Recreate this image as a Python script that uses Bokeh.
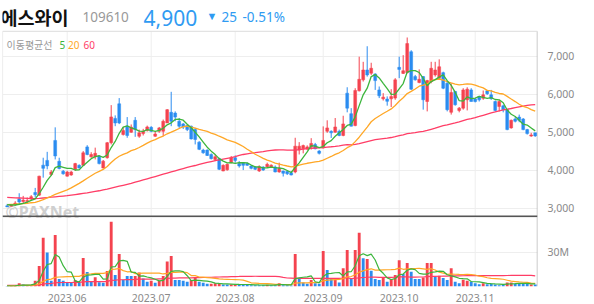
import numpy as np
from bokeh.plotting import figure
from bokeh.models import Range1d, FixedTicker, Label, ColumnDataSource
from bokeh.embed import file_html
from bokeh.resources import INLINE

# ---------------- data ----------------
month_ticks = [15, 36, 57, 79, 98, 117]
month_labels = ["2023.06", "2023.07", "2023.08", "2023.09", "2023.10", "2023.11"]
price_ticks = [3000, 4000, 5000, 6000, 7000]
price_labels = ["3,000", "4,000", "5,000", "6,000", "7,000"]
vol_tick = 30
vol_tick_label = "30M"

open_ = [3060,3050,3080,3240,3170,3170,3240,3410,3340,4130,
 4255,3880,4780,4230,3970,3840,3870,4020,4125,4125,
 4610,4350,4350,4370,4055,4325,4720,5360,5745,4935,
 5155,4995,5310,4890,4960,5040,5125,4890,5020,5020,
 5240,5520,5500,5285,5215,5170,5155,5065,4735,4525,
 4525,4410,4280,4300,3975,4005,4195,4325,4170,4195,
 4170,4105,4080,3975,4080,4090,4080,4080,3950,3975,
 3960,3930,3950,4525,4560,4555,4610,4670,4500,4585,
 5020,5020,4995,5020,4910,6025,5485,5170,6085,6375,
 6635,6550,6530,6110,5875,5870,5875,5895,6705,6545,
 6565,7115,6460,6305,6460,5805,6330,6505,6415,6565,
 6285,5520,6070,5570,5630,5850,6110,5870,5935,5890,
 6085,5980,5805,5675,5690,5590,5110,5345,5395,5345,
 5065,4905,4980]
high = [3110,3100,3180,3390,3320,3280,3340,3530,3850,4325,
 4480,4000,5125,4325,4000,3980,3980,4190,4150,4500,
 4655,4470,4590,4390,4265,4740,5710,5440,5895,5135,
 5395,5200,5395,5065,5085,5170,5155,5020,5135,5330,
 5605,6060,5545,5370,5240,5200,5170,5110,4760,4560,
 4545,4440,4410,4325,4150,4175,4370,4385,4235,4210,
 4195,4130,4105,4125,4100,4195,4150,4120,4195,3985,
 3980,3975,4850,4735,4670,4650,4840,4715,4525,5150,
 5310,5045,5370,5065,5430,6180,5630,6155,6985,6850,
 7260,6825,6550,6200,6025,5940,6130,6420,6985,7025,
 7490,7155,6505,6650,6475,6375,6850,6850,6915,6590,
 6330,6285,6085,5660,6155,6180,6155,5895,5955,6095,
 6110,6110,5830,5850,5720,5605,5330,5395,5460,5370,
 5085,4980,4980]
low = [3030,3040,3060,3090,3110,3130,3200,3280,3320,3800,
 4020,3850,4280,4020,3880,3830,3850,3975,4040,4110,
 4390,4325,4280,4150,4040,4300,4675,5155,5210,4910,
 4850,4980,4875,4850,4910,5015,4995,4875,4980,4890,
 5240,5155,5285,5110,5080,5025,4805,4675,4525,4430,
 4370,4280,4235,4000,3970,3985,4180,4195,4065,4000,
 4110,4020,4000,3950,3980,4065,4060,3940,3930,3830,
 3870,3860,3915,4410,4440,4525,4540,4545,4410,4570,
 4980,4845,4980,4890,4890,5520,5150,5155,6070,6330,
 6460,6505,6110,5895,5830,5695,5660,5850,6420,6530,
 6545,6110,6355,6285,5590,5545,6285,6460,6375,6130,
 5545,5460,5695,5520,5590,5570,5805,5780,5805,5850,
 5980,5850,5545,5545,5520,5050,5090,5255,5260,5050,
 4935,4875,4875]
close = [3040,3085,3130,3160,3210,3200,3300,3350,3840,4045,
 4110,3950,4370,4040,3900,3950,3950,4170,4055,4455,
 4410,4410,4440,4170,4235,4720,5400,5240,5240,5040,
 4910,5130,5065,4980,5020,5135,5020,4950,5110,5285,
 5590,5285,5395,5155,5135,5065,4820,4805,4545,4455,
 4385,4300,4350,4020,4125,4150,4325,4255,4110,4125,
 4125,4045,4020,4090,4000,4150,4130,3950,4040,3915,
 3905,3870,4630,4630,4645,4610,4700,4560,4440,4780,
 5110,4980,5135,4910,5215,5630,5155,6095,6390,6635,
 6505,6680,6355,5955,5920,5810,5935,6375,6650,6615,
 7330,6130,6375,6390,5850,6355,6680,6635,6720,6155,
 5590,6040,5720,5630,6110,6130,5805,5805,5850,5980,
 6010,5880,5570,5805,5590,5065,5310,5285,5310,5065,
 4960,4925,4900]
ma5 = [3090,3080,3080,3100,3125,3157,3200,3244,3380,3547,
 3729,3859,4063,4103,4074,4042,4042,4002,4005,4116,
 4208,4300,4354,4377,4333,4395,4593,4753,4967,5128,
 5166,5112,5077,5025,5021,5066,5044,5021,5047,5100,
 5191,5244,5333,5342,5312,5207,5114,4996,4874,4738,
 4602,4498,4407,4302,4236,4189,4194,4175,4193,4193,
 4188,4132,4085,4081,4056,4061,4078,4064,4054,4037,
 3988,3936,4072,4190,4336,4477,4643,4629,4591,4618,
 4718,4774,4889,4983,5070,5174,5209,5401,5697,5981,
 6156,6461,6513,6426,6283,6144,5995,5999,6138,6277,
 6581,6620,6620,6568,6415,6220,6330,6382,6448,6509,
 6356,6228,6045,5827,5818,5926,5879,5896,5940,5914,
 5890,5905,5858,5849,5771,5582,5468,5411,5312,5207,
 5186,5109,5032]
ma20 = [3090,3095,3100,3110,3115,3125,3140,3150,3180,3220,
 3270,3310,3360,3400,3440,3480,3530,3590,3650,3716,
 3784,3850,3916,3966,4018,4094,4199,4293,4363,4413,
 4453,4512,4547,4594,4650,4709,4762,4801,4854,4896,
 4955,4998,5046,5095,5140,5158,5129,5107,5072,5043,
 5017,4975,4939,4891,4847,4797,4763,4728,4678,4620,
 4547,4485,4416,4363,4306,4260,4226,4183,4158,4131,
 4107,4085,4099,4130,4156,4179,4197,4213,4229,4262,
 4311,4358,4414,4455,4515,4589,4641,4748,4865,5001,
 5131,5272,5358,5424,5488,5548,5610,5701,5811,5903,
 6014,6071,6133,6207,6239,6275,6352,6379,6395,6371,
 6325,6293,6262,6245,6255,6271,6264,6236,6196,6164,
 6098,6086,6045,6016,6003,5939,5870,5803,5732,5678,
 5646,5590,5549]
ma60 = [3280,3275,3270,3265,3260,3255,3250,3250,3255,3265,
 3275,3285,3295,3305,3315,3325,3340,3355,3370,3385,
 3400,3420,3440,3455,3480,3500,3525,3550,3575,3600,
 3625,3650,3680,3710,3740,3770,3800,3830,3860,3890,
 3920,3950,3980,4010,4040,4070,4095,4120,4150,4175,
 4200,4225,4250,4270,4290,4310,4330,4355,4385,4410,
 4428,4444,4459,4475,4488,4504,4518,4528,4531,4529,
 4525,4524,4528,4538,4551,4562,4574,4581,4587,4592,
 4604,4614,4625,4637,4654,4669,4665,4679,4698,4725,
 4751,4777,4799,4815,4830,4841,4857,4880,4906,4928,
 4957,4971,4988,5008,5020,5042,5073,5103,5139,5168,
 5188,5217,5240,5266,5299,5332,5357,5383,5412,5443,
 5474,5505,5531,5559,5586,5601,5621,5643,5664,5683,
 5701,5718,5723]
volume = [0.5,0.4,0.6,2.9,1.8,0.7,0.9,5.0,18.0,42.6,
 29.7,5.0,45.0,6.5,5.0,3.2,3.5,5.6,3.2,25.0,
 12.6,4.1,8.2,3.8,3.2,13.5,56.7,10.0,28.5,5.9,
 9.1,9.1,9.1,12.3,7.1,4.1,5.0,3.2,5.0,9.1,
 21.8,26.8,5.6,5.6,5.0,4.1,5.6,7.9,4.1,3.2,
 2.4,2.4,2.9,2.4,1.8,1.8,1.8,1.8,1.8,1.5,
 1.8,1.2,1.2,1.2,1.0,1.5,1.2,1.2,2.9,1.0,
 1.2,0.9,28.5,6.5,3.5,2.4,5.6,2.9,2.4,31.0,
 14.4,6.5,5.9,3.5,15.9,32.0,7.4,32.0,47.0,24.7,
 24.0,13.8,6.5,5.6,7.9,4.1,6.5,10.0,23.0,10.9,
 20.6,12.9,6.5,6.5,7.9,20.6,20.6,8.5,9.4,7.4,
 5.6,15.9,4.1,2.9,5.9,5.0,4.1,2.9,2.0,2.9,
 2.0,2.4,1.8,1.2,1.8,3.5,3.5,2.4,2.4,2.4,
 2.9,1.8,1.8]
vol_up = [0,1,1,1,0,1,1,1,1,1,
 0,0,1,0,0,0,0,1,0,1,
 0,0,1,0,0,1,1,0,1,0,
 0,0,1,1,0,0,1,0,1,1,
 1,1,0,0,0,0,1,1,0,0,
 0,1,1,1,0,0,1,1,0,0,
 0,0,0,0,0,1,0,0,1,0,
 0,0,1,0,0,0,1,0,0,1,
 0,0,1,0,1,1,0,1,1,0,
 1,0,0,0,1,0,1,1,1,0,
 1,0,0,0,1,1,1,0,1,0,
 0,1,0,0,1,1,0,0,0,1,
 0,0,0,0,0,1,1,0,0,0,
 0,1,0]
vma5 = [0.5,0.45,0.5,1.1,1.24,1.28,1.38,2.26,5.28,13.44,
 19.24,20.06,28.06,25.76,18.24,12.94,12.64,4.76,4.1,8.1,
 9.98,10.1,10.62,10.74,6.38,6.56,17.08,17.44,22.38,22.92,
 22.04,12.52,12.34,9.1,9.34,8.34,7.52,6.34,4.88,5.28,
 8.82,13.18,13.66,13.78,12.96,9.42,5.18,5.64,5.34,4.98,
 4.64,4.0,3.0,2.66,2.38,2.26,2.14,1.92,1.8,1.74,
 1.74,1.62,1.5,1.38,1.28,1.22,1.22,1.22,1.56,1.56,
 1.5,1.44,6.9,7.62,8.12,8.36,9.3,4.18,3.36,8.86,
 11.26,11.44,12.04,12.26,9.24,12.76,12.94,18.16,26.86,28.62,
 27.02,28.3,23.2,14.92,11.56,7.58,6.12,6.82,10.3,10.9,
 14.2,15.48,14.78,11.48,10.88,10.88,12.42,12.82,13.4,13.3,
 10.3,9.36,8.48,7.18,6.88,6.76,4.4,4.16,3.98,3.38,
 2.78,2.44,2.22,2.06,1.84,2.14,2.36,2.48,2.72,2.84,
 2.72,2.38,2.26]
vma20 = [0.6,0.6,0.6,0.8,0.9,1.0,1.0,1.3,2.3,4.5,
 6.0,6.5,8.0,8.3,8.5,8.6,8.7,8.8,8.9,10.26,
 10.86,11.05,11.43,11.47,11.54,12.18,14.97,15.22,15.75,13.91,
 12.88,13.09,11.29,11.58,11.69,11.73,11.81,11.69,11.78,10.98,
 11.44,12.58,12.45,12.54,12.63,12.16,9.6,9.5,8.28,8.14,
 7.81,7.47,7.16,6.67,6.4,6.29,6.13,6.06,5.9,5.52,
 4.52,3.24,3.02,2.8,2.6,2.47,2.25,1.91,1.85,1.74,
 1.68,1.61,2.89,3.09,3.18,3.21,3.4,3.45,3.48,4.96,
 5.59,5.85,6.09,6.2,6.95,8.47,8.78,10.32,12.53,13.71,
 14.85,15.5,14.4,14.35,14.57,14.66,14.7,15.06,16.09,15.08,
 15.39,15.71,15.74,15.89,15.49,14.92,15.58,14.41,12.53,11.66,
 10.74,10.85,10.73,10.59,10.49,10.54,10.42,10.06,9.01,8.61,
 7.68,7.16,6.92,6.66,6.35,5.5,4.64,4.34,3.99,3.74,
 3.6,2.9,2.78]
vma60 = [0.9,0.9,0.9,0.95,1.0,1.0,1.0,1.1,1.4,2.1,
 2.6,2.6,3.3,3.4,3.5,3.5,3.5,3.6,3.6,4.0,
 4.2,4.2,4.3,4.3,4.3,4.5,5.4,5.5,5.9,5.9,
 6.0,6.1,6.2,6.4,6.5,6.5,6.5,6.5,6.6,6.7,
 7.0,7.4,7.4,7.5,7.5,7.5,7.6,7.7,7.8,7.9,
 8.0,8.1,8.2,8.3,8.4,8.5,8.6,8.7,8.8,8.92,
 8.94,8.95,8.96,8.93,8.92,8.93,8.94,8.88,8.62,7.93,
 7.46,7.39,7.11,7.11,7.09,7.07,7.11,7.06,7.05,7.15,
 7.18,7.22,7.18,7.18,7.39,7.7,6.88,7.24,7.55,7.86,
 8.11,8.19,8.15,8.04,8.05,8.05,8.07,8.19,8.49,8.52,
 8.5,8.27,8.28,8.3,8.34,8.62,8.87,8.88,8.97,9.04,
 9.09,9.32,9.34,9.34,9.41,9.47,9.5,9.52,9.53,9.55,
 9.55,9.57,9.58,9.58,9.6,9.63,9.67,9.69,9.68,9.7,
 9.73,9.75,9.3]

# ---------------- geometry (pixels of the 594x304 page) ----------------
W, H = 594, 304
FL, FR, FT, FB = 2, 537, 0, 288        # plot frame (header drawn inside it)
PANEL_TOP = 31                         # top border of the price panel
SEP_Y = 217.3                          # price / volume separator
X0, DX = 6.7, 4.0                      # pixel of first candle, px per session
PX_PER_1000 = 38.25
Y7000 = 56.0
VOL30_PX = 253.5

def xd(px):
    return (px - X0) / DX

def yd(py):
    return 7000 - (py - Y7000) * 1000.0 / PX_PER_1000

RED = "#f4434f"
BLUE = "#2b8cf0"
C_MA5 = "#3cb53c"
C_MA20 = "#ffa726"
C_MA60 = "#ff3d66"
GRID = "#eeeeee"
TXT = "#8a8a8a"
PRICE_BLUE = "#2f9bf2"

n = len(close)
idx = np.arange(n)
o = np.array(open_, float); c = np.array(close, float)
up = c >= o
top = np.maximum(o, c); bot = np.minimum(o, c)
thin = (top - bot) < 30
bot = np.where(thin, top - 30, bot)
col = np.where(up, RED, BLUE)

y0, y1 = yd(FB), yd(FT)
vol_top = vol_tick * (FB - FT) / (FB - VOL30_PX)
def vol_to_price(v):
    return y0 + (y1 - y0) * v / vol_top

p = figure(width=W, height=H, output_backend="svg", toolbar_location=None,
           x_range=Range1d(xd(FL), xd(FR)), y_range=Range1d(y0, y1),
           y_axis_location="right",
           min_border_left=FL, min_border_right=W - FR,
           min_border_top=FT, min_border_bottom=H - FB)
p.title.visible = False
p.extra_y_ranges = {"vol": Range1d(0, vol_top)}
p.background_fill_color = "white"
p.border_fill_color = "white"
p.outline_line_color = None

# horizontal grid via the axis ticker, vertical grid drawn below the header only
t30 = round(vol_to_price(30), 3)
t60 = round(vol_to_price(60), 3)
p.ygrid.ticker = FixedTicker(ticks=price_ticks + [t30, t60])
p.ygrid.grid_line_color = GRID
p.xgrid.visible = False
g = p.segment(x0=month_ticks, x1=month_ticks, y0=[yd(PANEL_TOP)] * len(month_ticks),
              y1=[yd(FB)] * len(month_ticks), line_color=GRID, line_width=1)
g.level = "underlay"

# panel borders
b1 = p.segment(x0=[xd(FL) + 0.02], x1=[xd(FL) + 0.02], y0=[yd(PANEL_TOP)], y1=[yd(FB)],
               line_color="#dcdcdc", line_width=1)
b1.level = "underlay"
p.segment(x0=[xd(FR) - 0.05], x1=[xd(FR) - 0.05], y0=[yd(PANEL_TOP)], y1=[yd(FB)],
          line_color="#a8a8a8", line_width=1)
p.segment(x0=[xd(FL)], x1=[xd(FR)], y0=[yd(PANEL_TOP)], y1=[yd(PANEL_TOP)],
          line_color="#dcdcdc", line_width=1)

# axes
ya = p.yaxis[0]
ya.ticker = FixedTicker(ticks=price_ticks + [t30])
ov = {t: s for t, s in zip(price_ticks, price_labels)}
ov[t30] = vol_tick_label
ya.major_label_overrides = ov
ya.major_tick_line_color = None
ya.minor_tick_line_color = None
ya.axis_line_color = None
ya.major_label_text_color = TXT
ya.major_label_text_font = "Noto Sans"
ya.major_label_text_font_size = "10.5px"
ya.major_label_standoff = 4

xa = p.xaxis[0]
xa.ticker = FixedTicker(ticks=month_ticks)
xa.major_label_overrides = {t: s for t, s in zip(month_ticks, month_labels)}
xa.major_tick_line_color = None
xa.minor_tick_line_color = None
xa.axis_line_color = None
xa.major_label_text_color = TXT
xa.major_label_text_font = "Noto Sans"
xa.major_label_text_font_size = "10.5px"
xa.major_label_standoff = 1

# watermark (under glyphs)
wm = Label(x=xd(5), y=yd(212.5), text="©PAXNet", text_font="Noto Sans",
           text_font_style="bold", text_font_size="16px", text_color="#cfcfcf",
           text_baseline="alphabetic", level="underlay")
p.add_layout(wm)

# candles
src = ColumnDataSource(dict(x=idx, o=o, c=c, h=high, l=low, top=top, bot=bot, col=col))
p.segment(x0="x", x1="x", y0="l", y1="h", source=src, line_color="col", line_width=1)
p.vbar(x="x", top="top", bottom="bot", width=0.72, source=src,
       fill_color="col", line_color="col", line_width=0.5)

# price moving averages
p.line(idx, ma60, line_color=C_MA60, line_width=1.3)
p.line(idx, ma20, line_color=C_MA20, line_width=1.3)
p.line(idx, ma5, line_color=C_MA5, line_width=1.3)

# volume
vcol = [RED if u else BLUE for u in vol_up]
vsrc = ColumnDataSource(dict(x=idx, v=volume, col=vcol))
p.vbar(x="x", top="v", bottom=0, width=0.72, source=vsrc, y_range_name="vol",
       fill_color="col", line_color=None)
p.line(idx, vma60, line_color=C_MA60, line_width=1.2, y_range_name="vol")
p.line(idx, vma20, line_color=C_MA20, line_width=1.2, y_range_name="vol")
p.line(idx, vma5, line_color=C_MA5, line_width=1.2, y_range_name="vol")

# separator between price and volume panels
p.segment(x0=[xd(FL)], x1=[xd(FR)], y0=[yd(SEP_Y)], y1=[yd(SEP_Y)],
          line_color="#555555", line_width=1.5)

def txt(px, py, s, size, color, font="Noto Sans", style="normal"):
    p.add_layout(Label(x=xd(px), y=yd(py), text=s, text_font=font, text_font_style=style,
                       text_font_size=size, text_color=color, text_baseline="alphabetic"))

# header
txt(0, 16.5, "에스와이", "18.5px", "#111111", font="Noto Sans CJK KR", style="bold")
txt(82, 17, "109610", "13.5px", "#999999")
txt(143, 17.5, "4,900", "21px", PRICE_BLUE)
txt(206, 15.5, "▼", "11px", PRICE_BLUE)
txt(221, 17, "25", "13.5px", PRICE_BLUE)
txt(242, 17, "-0.51%", "13.5px", PRICE_BLUE)

# moving-average legend
txt(6, 44.5, "이동평균선", "10px", "#999999", font="Noto Sans CJK KR")
txt(59, 44.5, "5", "10px", C_MA5)
txt(67.5, 44.5, "20", "10px", C_MA20)
txt(83, 44.5, "60", "10px", C_MA60)

open("out.html", "w").write(file_html(p, INLINE))
